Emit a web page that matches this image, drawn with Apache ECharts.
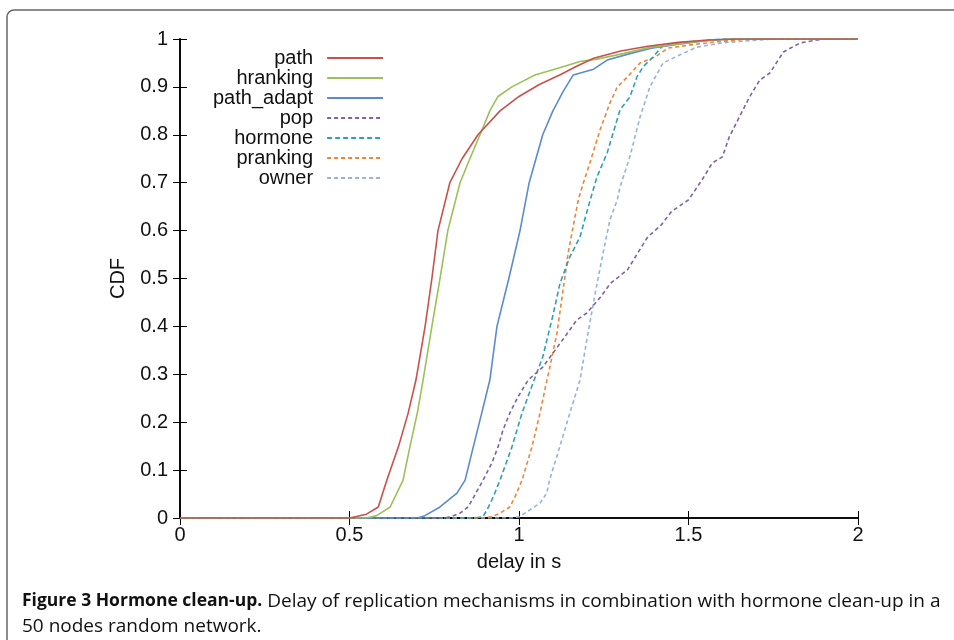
<!DOCTYPE html>
<html lang="en">
<head>
    <meta charset="UTF-8">
    <title>Hormone clean-up</title>
    <style>
        *{ margin: 0; padding: 0; }
        body,html{ width: 100%; height: 100%; background: #fff; }
        #main{ width: 954px; height: 640px; }
    </style>
</head>
<body>
<div id="main"></div>
<script src="https://cdn.jsdelivr.net/npm/echarts@6/dist/echarts.min.js"></script>
<script type="text/javascript">
    // CDF curves, [delay in s, CDF]
    var path = [[0,0],[0.50,0],[0.52,0.003],[0.55,0.008],[0.585,0.023],[0.61,0.079],[0.644,0.148],[0.673,0.219],[0.696,0.288],[0.723,0.4],[0.743,0.5],[0.761,0.6],[0.796,0.7],[0.832,0.75],[0.879,0.8],[0.944,0.85],[1.0,0.88],[1.06,0.905],[1.12,0.925],[1.17,0.943],[1.22,0.96],[1.3,0.975],[1.38,0.985],[1.47,0.993],[1.56,0.998],[1.65,1],[2,1]];
    var hranking = [[0,0],[0.55,0],[0.58,0.005],[0.62,0.023],[0.658,0.079],[0.678,0.148],[0.70,0.219],[0.717,0.288],[0.743,0.4],[0.767,0.5],[0.79,0.6],[0.826,0.7],[0.855,0.75],[0.885,0.8],[0.914,0.85],[0.938,0.88],[0.979,0.9],[1.047,0.925],[1.12,0.94],[1.18,0.953],[1.23,0.958],[1.31,0.97],[1.39,0.983],[1.48,0.99],[1.55,0.997],[1.62,1],[2,1]];
    var pathAdapt = [[0,0],[0.70,0],[0.72,0.004],[0.767,0.023],[0.817,0.052],[0.841,0.079],[0.865,0.148],[0.89,0.219],[0.914,0.288],[0.935,0.4],[0.97,0.5],[1.003,0.6],[1.03,0.7],[1.07,0.8],[1.1,0.85],[1.13,0.89],[1.16,0.925],[1.22,0.937],[1.26,0.956],[1.33,0.97],[1.39,0.981],[1.48,0.99],[1.57,0.998],[1.62,1],[2,1]];
    var pop = [[0,0],[0.78,0],[0.80,0.003],[0.826,0.01],[0.85,0.023],[0.894,0.079],[0.92,0.115],[0.938,0.148],[0.953,0.184],[0.973,0.219],[0.997,0.253],[1.027,0.288],[1.07,0.315],[1.135,0.378],[1.17,0.413],[1.2,0.428],[1.24,0.461],[1.27,0.49],[1.32,0.518],[1.35,0.553],[1.38,0.587],[1.42,0.612],[1.45,0.64],[1.5,0.664],[1.54,0.706],[1.57,0.741],[1.6,0.754],[1.62,0.795],[1.65,0.837],[1.68,0.879],[1.71,0.914],[1.74,0.929],[1.78,0.973],[1.83,0.992],[1.88,0.998],[1.9,1],[2,1]];
    var hormone = [[0,0],[0.87,0],[0.894,0.003],[0.91,0.023],[0.924,0.044],[0.944,0.079],[0.979,0.148],[1.009,0.219],[1.035,0.27],[1.07,0.336],[1.099,0.42],[1.121,0.49],[1.15,0.545],[1.18,0.587],[1.21,0.664],[1.23,0.712],[1.26,0.762],[1.298,0.852],[1.327,0.879],[1.348,0.921],[1.366,0.942],[1.395,0.962],[1.425,0.987],[1.5,0.994],[1.6,1],[2,1]];
    var pranking = [[0,0],[0.9,0],[0.92,0.003],[0.944,0.01],[0.973,0.023],[0.988,0.044],[1.009,0.079],[1.038,0.148],[1.062,0.219],[1.077,0.27],[1.091,0.315],[1.112,0.386],[1.13,0.476],[1.145,0.553],[1.165,0.628],[1.175,0.664],[1.19,0.7],[1.209,0.741],[1.239,0.81],[1.268,0.866],[1.29,0.9],[1.32,0.921],[1.357,0.95],[1.4,0.962],[1.44,0.981],[1.5,0.987],[1.58,0.994],[1.68,1],[2,1]];
    var owner = [[0,0],[0.98,0],[1.003,0.003],[1.032,0.017],[1.062,0.031],[1.082,0.052],[1.09,0.079],[1.12,0.148],[1.15,0.219],[1.18,0.288],[1.2,0.372],[1.225,0.47],[1.248,0.553],[1.268,0.622],[1.29,0.664],[1.298,0.691],[1.327,0.754],[1.357,0.837],[1.386,0.9],[1.425,0.95],[1.475,0.967],[1.525,0.983],[1.6,0.992],[1.67,0.996],[1.75,1],[2,1]];

    var names = ['path', 'hranking', 'path_adapt', 'pop', 'hormone', 'pranking', 'owner'];
    var curves = [path, hranking, pathAdapt, pop, hormone, pranking, owner];
    var colors = ['#c9504c', '#9bc157', '#5a8bcf', '#7f63a0', '#2f9fb6', '#ec8536', '#97b2dc'];
    var dashes = ['solid', 'solid', 'solid', [4, 3], [5, 3], [4, 3], [4, 3]];

    var font = 'Liberation Sans';
    var fs = 20;
    var myChart = echarts.init(document.getElementById('main'));

    var series = names.map(function (n, i) {
        return {
            name: n,
            type: 'line',
            data: curves[i],
            symbol: 'none',
            color: colors[i],
            lineStyle: {width: 1.6, color: colors[i], type: dashes[i]},
            z: 10 - i
        };
    });

    var tickStyle = {show: true, inside: true, length: 7, lineStyle: {color: '#000', width: 1}};
    var lineSt = {show: true, lineStyle: {color: '#000', width: 1.6}};

    var option = {
        animation: false,
        textStyle: {fontFamily: font},
        grid: {left: 180, right: 96, top: 39, bottom: 122},
        legend: {
            data: names,
            orient: 'vertical',
            left: 208,
            top: 43,
            align: 'right',
            itemWidth: 56,
            itemHeight: 14,
            itemGap: 0,
            itemStyle: {opacity: 0},
            textStyle: {fontFamily: font, fontSize: fs, lineHeight: 20, color: '#111', padding: [0, 9, 0, 0]}
        },
        xAxis: [{
            type: 'value', min: 0, max: 2, interval: 0.5,
            name: 'delay in s', nameLocation: 'middle', nameGap: 34,
            nameTextStyle: {fontSize: fs, color: '#111', fontFamily: font},
            axisLine: lineSt, axisTick: tickStyle, splitLine: {show: false},
            axisLabel: {fontSize: fs, color: '#111', margin: 7, fontFamily: font}
        }, {
            type: 'value', min: 0, max: 2, interval: 0.5, position: 'top',
            axisLine: lineSt, axisTick: tickStyle, splitLine: {show: false}, axisLabel: {show: false}
        }],
        yAxis: [{
            type: 'value', min: 0, max: 1, interval: 0.1,
            name: 'CDF', nameLocation: 'middle', nameGap: 52, nameRotate: 90,
            nameTextStyle: {fontSize: fs, color: '#111', fontFamily: font},
            axisLine: lineSt, axisTick: tickStyle, splitLine: {show: false},
            axisLabel: {fontSize: fs, color: '#111', margin: 12, fontFamily: font}
        }, {
            type: 'value', min: 0, max: 1, interval: 0.1, position: 'right',
            axisLine: lineSt, axisTick: tickStyle, splitLine: {show: false}, axisLabel: {show: false}
        }],
        graphic: [{
            type: 'rect',
            shape: {x: 7, y: 10, width: 1000, height: 700, r: [7, 0, 0, 0]},
            style: {fill: 'none', stroke: '#666', lineWidth: 1.5},
            silent: true
        }, {
            type: 'text',
            left: 22,
            top: 589,
            style: {
                text: '{b|Figure 3 Hormone clean-up.} Delay of replication mechanisms in combination with hormone clean-up in a\n50 nodes random network.',
                font: '19px "Open Sans"',
                fill: '#111',
                lineHeight: 25,
                rich: {
                    b: {fontWeight: 'bold', fontSize: 17.5, fontFamily: 'Open Sans', fill: '#111'}
                }
            }
        }],
        series: series
    };
    myChart.setOption(option);
</script>
</body>
</html>
